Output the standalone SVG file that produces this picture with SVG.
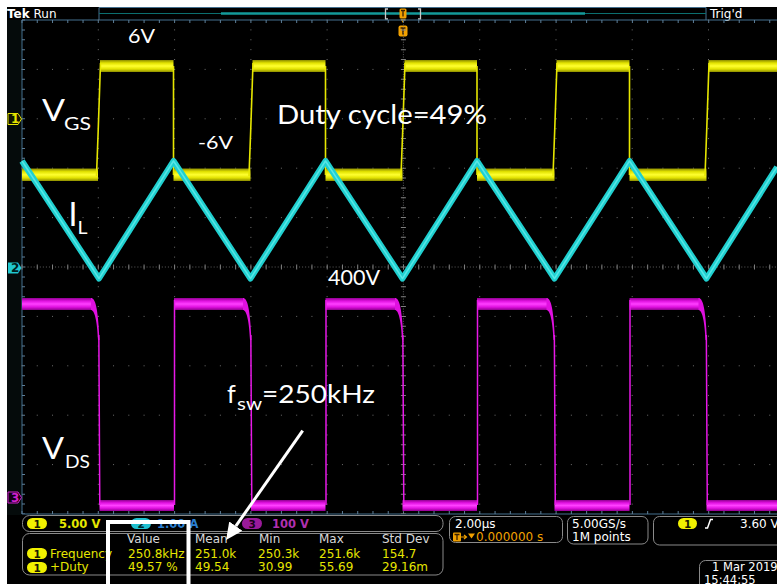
<svg xmlns="http://www.w3.org/2000/svg" width="777" height="584" viewBox="0 0 777 584">
<defs>
<style>
.ui{font-family:"DejaVu Sans","Liberation Sans",sans-serif;font-size:12px}
.lbl{font-family:Lato,"Open Sans","Liberation Sans",sans-serif;fill:#ffffff}
.dotv{stroke:#6e6e6e;stroke-width:1;stroke-dasharray:1 8.88}
.doth{stroke:#6e6e6e;stroke-width:1;stroke-dasharray:1 14.26}
.bord{stroke:#44708f;stroke-width:1;fill:none}
.tick{stroke:#5d7f99;stroke-width:3;stroke-dasharray:1 14.26}
.panel{fill:#000;stroke:#8a8a8a;stroke-width:1}
.yv{fill:#e6e600}
.hd{fill:#d8d8d8}
</style>
<linearGradient id="yg" x1="0" y1="0" x2="0" y2="1">
<stop offset="0" stop-color="#8c8c00"/><stop offset="0.25" stop-color="#e2e200"/><stop offset="0.5" stop-color="#ffff30"/><stop offset="0.75" stop-color="#e2e200"/><stop offset="1" stop-color="#8c8c00"/>
</linearGradient>
<linearGradient id="mg" x1="0" y1="0" x2="0" y2="1">
<stop offset="0" stop-color="#900090"/><stop offset="0.25" stop-color="#e010e0"/><stop offset="0.5" stop-color="#ff40ff"/><stop offset="0.75" stop-color="#e010e0"/><stop offset="1" stop-color="#900090"/>
</linearGradient>
<marker id="ah" viewBox="0 0 17 16" refX="0" refY="8" markerWidth="17" markerHeight="16" markerUnits="userSpaceOnUse" orient="auto">
<path d="M0,0 L17,8 L0,16 Z" fill="#ffffff"/>
</marker>
</defs>

<rect x="0" y="0" width="777" height="584" fill="#000"/>
<rect x="0" y="0" width="777" height="7" fill="#fff"/>
<rect x="0" y="0" width="7" height="584" fill="#fff"/>
<rect x="7" y="20" width="15" height="495" fill="#050b0b"/>

<g id="top-bar">
<text class="ui" x="7" y="17.5" font-size="13" fill="#fff"><tspan font-weight="bold">Tek</tspan> Run</text>
<path class="bord" d="M99,20 V7.5 H706 V20"/>
<line x1="99" y1="13.5" x2="706" y2="13.5" stroke="#0b6f6f" stroke-width="1"/>
<line x1="221" y1="13.5" x2="585" y2="13.5" stroke="#139a9a" stroke-width="2.5"/>
<path d="M388,9 H385.5 V19 H388 M418,9 H420.5 V19 H418" stroke="#c8c8c8" stroke-width="1.3" fill="none"/>
<rect x="399.5" y="8.5" width="7" height="10" rx="1.5" fill="#f0a000"/>
<path d="M400.5,19 L405.5,19 L403,23 Z" fill="#f0a000"/>
<path d="M401,10.5 H405 M403,10.5 V16.5" stroke="#3a2000" stroke-width="1.3"/>
<rect x="398.5" y="25.5" width="9" height="11" rx="2" fill="#f0a000"/>
<path d="M400.5,28 H405.5 M403,28 V34.5" stroke="#3a2000" stroke-width="1.5"/>
<text class="ui" x="710" y="17.5" font-size="13" fill="#fff">Trig'd</text>
</g>

<g id="graticule">
<line class="bord" x1="22" y1="20" x2="777" y2="20"/>
<line class="bord" x1="22" y1="20" x2="22" y2="514"/>
<line class="bord" x1="22" y1="514" x2="777" y2="514"/>
<line class="tick" x1="21.5" y1="21.5" x2="777" y2="21.5"/>
<line class="tick" x1="21.5" y1="512.5" x2="777" y2="512.5"/>
<line x1="23.5" y1="19.5" x2="23.5" y2="514" stroke="#5d7f99" stroke-width="3" stroke-dasharray="1 8.88"/>
<g class="dotv">
<line x1="98.3" y1="19.5" x2="98.3" y2="514"/><line x1="174.6" y1="19.5" x2="174.6" y2="514"/><line x1="250.9" y1="19.5" x2="250.9" y2="514"/><line x1="327.1" y1="19.5" x2="327.1" y2="514"/><line x1="479.7" y1="19.5" x2="479.7" y2="514"/><line x1="556" y1="19.5" x2="556" y2="514"/><line x1="632.2" y1="19.5" x2="632.2" y2="514"/><line x1="708.5" y1="19.5" x2="708.5" y2="514"/>
</g>
<g class="doth">
<line x1="21.5" y1="69.4" x2="777" y2="69.4"/><line x1="21.5" y1="118.8" x2="777" y2="118.8"/><line x1="21.5" y1="168.2" x2="777" y2="168.2"/><line x1="21.5" y1="217.6" x2="777" y2="217.6"/><line x1="21.5" y1="316.4" x2="777" y2="316.4"/><line x1="21.5" y1="365.8" x2="777" y2="365.8"/><line x1="21.5" y1="415.2" x2="777" y2="415.2"/><line x1="21.5" y1="464.6" x2="777" y2="464.6"/>
</g>
<line x1="21.5" y1="267" x2="777" y2="267" stroke="#5e5e5e" stroke-width="1" stroke-dasharray="1 2.05"/>
<line x1="21.5" y1="267" x2="777" y2="267" stroke="#808080" stroke-width="5" stroke-dasharray="1 14.26"/>
<line x1="403.4" y1="19.5" x2="403.4" y2="514" stroke="#5a5a5a" stroke-width="1" stroke-dasharray="1 1.47"/>
<line x1="403.4" y1="19.5" x2="403.4" y2="514" stroke="#808080" stroke-width="5" stroke-dasharray="1 8.88"/>
</g>

<g id="ch-markers" class="ui" font-size="10" font-weight="bold">
<path d="M8,113.5 H18 L21.5,119 L18,124.5 H8 Z" fill="#141400" stroke="#e6e600" stroke-width="1"/>
<text x="11" y="123" fill="#e6e600">1</text>
<path d="M8,262.5 H18 L21.5,268 L18,273.5 H8 Z" fill="#20c8d0"/>
<text x="11" y="272" fill="#002020">2</text>
<path d="M8,492 H18 L21.5,497.5 L18,503 H8 Z" fill="#140014" stroke="#d020d0" stroke-width="1"/>
<text x="11" y="501.5" fill="#d020d0">3</text>
</g>

<g id="vgs-trace">
<g fill="url(#yg)">
<rect x="22" y="168.5" width="76" height="12.5"/>
<rect x="173.5" y="168.5" width="77" height="12.5"/>
<rect x="325.5" y="168.5" width="77" height="12.5"/>
<rect x="477" y="168.5" width="77.5" height="12.5"/>
<rect x="629.5" y="168.5" width="77" height="12.5"/>
<rect x="100" y="60" width="73.5" height="12"/>
<rect x="252.5" y="60" width="73" height="12"/>
<rect x="404.5" y="60" width="72.5" height="12"/>
<rect x="556.5" y="60" width="73" height="12"/>
<rect x="708.5" y="60" width="68.5" height="12"/>
</g>
<g stroke="#e6e600" stroke-width="1.6" fill="none">
<path d="M96.5,176 C98,140 99.5,90 100.5,63"/>
<path d="M249,176 C250.5,140 252,90 253,63"/>
<path d="M401,176 C402.5,140 404,90 405,63"/>
<path d="M553,176 C554.5,140 556,90 557,63"/>
<path d="M705,176 C706.5,140 708,90 709,63"/>
<path d="M173.5,66 V175"/>
<path d="M325.5,66 V175"/>
<path d="M477,66 V175"/>
<path d="M629.5,66 V175"/>
</g>
</g>

<g id="il-trace">
<polyline points="22,161 99,278.5 173.5,161 250.5,278.5 325.5,161 402.5,278.5 477,161 554.5,278.5 629.5,161 706.5,278.5 777,167" fill="none" stroke="#1fd0d0" stroke-width="6" stroke-linejoin="round"/>
<polyline points="22,161 99,278.5 173.5,161 250.5,278.5 325.5,161 402.5,278.5 477,161 554.5,278.5 629.5,161 706.5,278.5 777,167" fill="none" stroke="#6ff0f0" stroke-width="1.5" stroke-linejoin="round" opacity="0.7"/>
</g>

<g id="vds-trace">
<g fill="url(#mg)">
<rect x="22" y="298" width="70" height="12"/>
<rect x="174" y="298" width="70" height="12"/>
<rect x="325.5" y="298" width="70.5" height="12"/>
<rect x="477" y="298" width="70.5" height="12"/>
<rect x="629.5" y="298" width="70" height="12"/>
<rect x="99.5" y="500" width="74.5" height="11"/>
<rect x="251" y="500" width="74.5" height="11"/>
<rect x="402.5" y="500" width="74.5" height="11"/>
<rect x="554.5" y="500" width="75" height="11"/>
<rect x="706.5" y="500" width="70.5" height="11"/>
</g>
<g fill="#e010e0">
<path d="M91,298 C95,298 98,306 99.5,340 L98,340 C97,318 94,310 91,310 Z"/>
<path d="M243,298 C247,298 250,306 251.5,340 L250,340 C249,318 246,310 243,310 Z"/>
<path d="M395,298 C399,298 402,306 403.5,340 L402,340 C401,318 398,310 395,310 Z"/>
<path d="M546.5,298 C550.5,298 553.5,306 555,340 L553.5,340 C552.5,318 549.5,310 546.5,310 Z"/>
<path d="M698.5,298 C702.5,298 705.5,306 707,340 L705.5,340 C704.5,318 701.5,310 698.5,310 Z"/>
</g>
<g stroke="#e818e8" stroke-width="1.5" fill="none">
<path d="M98.8,335 C99.3,360 99.5,380 99.8,505"/>
<path d="M250.8,335 C251.3,360 251.5,380 251.8,505"/>
<path d="M402.8,335 C403.3,360 403.5,380 403.8,505"/>
<path d="M554.3,335 C554.8,360 555,380 555.3,505"/>
<path d="M706.3,335 C706.8,360 707,380 707.3,505"/>
<path d="M174.5,505 V300"/>
<path d="M326,505 V300"/>
<path d="M477.5,505 V300"/>
<path d="M630,505 V300"/>
</g>
</g>

<g id="labels" class="lbl">
<text x="128" y="43" font-size="20" textLength="27" lengthAdjust="spacingAndGlyphs">6V</text>
<text x="42" y="121" font-size="31" textLength="23" lengthAdjust="spacingAndGlyphs">V</text>
<text x="64" y="130" font-size="17.5" textLength="27" lengthAdjust="spacingAndGlyphs">GS</text>
<text x="198" y="149" font-size="17.5" textLength="35" lengthAdjust="spacingAndGlyphs">-6V</text>
<text x="277" y="124" font-size="26.5" textLength="210" lengthAdjust="spacingAndGlyphs">Duty cycle=49%</text>
<text x="68.5" y="226" font-size="32">I</text>
<text x="77.5" y="234" font-size="17.5" textLength="10" lengthAdjust="spacingAndGlyphs">L</text>
<text x="328" y="285" font-size="20.5" textLength="52" lengthAdjust="spacingAndGlyphs">400V</text>
<text x="227" y="403" font-size="25">f</text>
<text x="237" y="410" font-size="17.5" textLength="25" lengthAdjust="spacingAndGlyphs">sw</text>
<text x="262" y="403" font-size="24.5" textLength="113" lengthAdjust="spacingAndGlyphs">=250kHz</text>
<text x="42" y="459" font-size="31" textLength="22" lengthAdjust="spacingAndGlyphs">V</text>
<text x="65" y="468" font-size="17.5" textLength="25" lengthAdjust="spacingAndGlyphs">DS</text>
</g>

<g id="channel-panel" class="ui">
<rect class="panel" x="22.5" y="515.5" width="420.5" height="16" rx="7"/>
<rect x="27" y="518" width="20" height="11" rx="5.5" fill="#f0f000"/>
<text x="33.5" y="527.5" font-size="10.5" font-weight="bold" fill="#1a1a00">1</text>
<text x="59" y="528" font-size="11.5" font-weight="bold" fill="#e6e600">5.00 V</text>
<rect x="131" y="518" width="20" height="11" rx="5.5" fill="#20c0d0"/>
<text x="137.5" y="527.5" font-size="10.5" font-weight="bold" fill="#00282c">2</text>
<text x="157" y="528" font-size="11.5" font-weight="bold" fill="#2a7fd0">1.00 A</text>
<rect x="242" y="518" width="20" height="11" rx="5.5" fill="#9a1a9a"/>
<text x="248.5" y="527.5" font-size="10.5" font-weight="bold" fill="#1a001a">3</text>
<text x="272" y="528" font-size="11.5" font-weight="bold" fill="#b030b0">100 V</text>
</g>

<g id="measurements" class="ui">
<rect class="panel" x="22.5" y="533.5" width="420.5" height="41.5" rx="7"/>
<text class="hd" x="127" y="543">Value</text>
<text class="hd" x="195" y="543">Mean</text>
<text class="hd" x="259" y="543">Min</text>
<text class="hd" x="319" y="543">Max</text>
<text class="hd" x="382" y="543">Std Dev</text>
<rect x="27" y="548" width="20" height="11" rx="5.5" fill="#f0f000"/>
<text x="33.5" y="557.5" font-size="10.5" font-weight="bold" fill="#1a1a00">1</text>
<rect x="27" y="562" width="20" height="11" rx="5.5" fill="#f0f000"/>
<text x="33.5" y="571.5" font-size="10.5" font-weight="bold" fill="#1a1a00">1</text>
<g class="yv">
<text x="50" y="558">Frequency</text>
<text x="128" y="558">250.8kHz</text>
<text x="195" y="558">251.0k</text>
<text x="258" y="558">250.3k</text>
<text x="319" y="558">251.6k</text>
<text x="382" y="558">154.7</text>
<text x="50" y="571">+Duty</text>
<text x="128" y="571">49.57 %</text>
<text x="195" y="571">49.54</text>
<text x="258" y="571">30.99</text>
<text x="319" y="571">55.69</text>
<text x="382" y="571">29.16m</text>
</g>
</g>

<g id="timebase" class="ui">
<rect class="panel" x="449.5" y="516.5" width="113" height="26" rx="6"/>
<text x="455" y="527.5" fill="#fff">2.00µs</text>
<rect x="453" y="532.5" width="8" height="9" rx="1" fill="#f0a000"/>
<path d="M454.5,534.5 H459.5 M457,534.5 V540" stroke="#3a2000" stroke-width="1.3"/>
<path d="M461,537 H466 M464,535 L466.5,537 L464,539" stroke="#f0a000" stroke-width="1.2" fill="none"/>
<path d="M468,533.5 H475 L471.5,538.5 Z" fill="#f0a000"/>
<text x="476" y="541" fill="#f0a000">0.000000 s</text>
</g>

<g id="acquisition" class="ui">
<rect class="panel" x="567.5" y="516.5" width="80.5" height="27.5" rx="6"/>
<text x="572" y="527.5" fill="#fff">5.00GS/s</text>
<text x="572" y="540.5" fill="#fff">1M points</text>
</g>

<g id="trigger" class="ui">
<rect class="panel" x="653.5" y="516.5" width="140" height="28.5" rx="6"/>
<rect x="678" y="518" width="19" height="11" rx="5.5" fill="#f0f000"/>
<text x="684" y="527.5" font-size="10.5" font-weight="bold" fill="#1a1a00">1</text>
<path d="M705,528 H707.5 L710.5,519.5 H713" stroke="#fff" stroke-width="1.5" fill="none"/>
<text x="740" y="528" fill="#fff">3.60 V</text>
</g>

<g id="datetime" class="ui">
<rect class="panel" x="699.5" y="560.5" width="100" height="30" rx="6"/>
<text x="712" y="571" font-size="11.5" fill="#fff">1 Mar 2019</text>
<text x="704" y="583.5" font-size="11.5" fill="#fff">15:44:55</text>
</g>

<g id="connectors">
<line x1="302.7" y1="430.7" x2="235.8" y2="526.1" stroke="#fff" stroke-width="3" marker-end="url(#ah)"/>
</g>

<g id="highlight-box">
<path d="M108,590 V522 H188.5 V590" fill="none" stroke="#fff" stroke-width="4"/>
</g>
</svg>
